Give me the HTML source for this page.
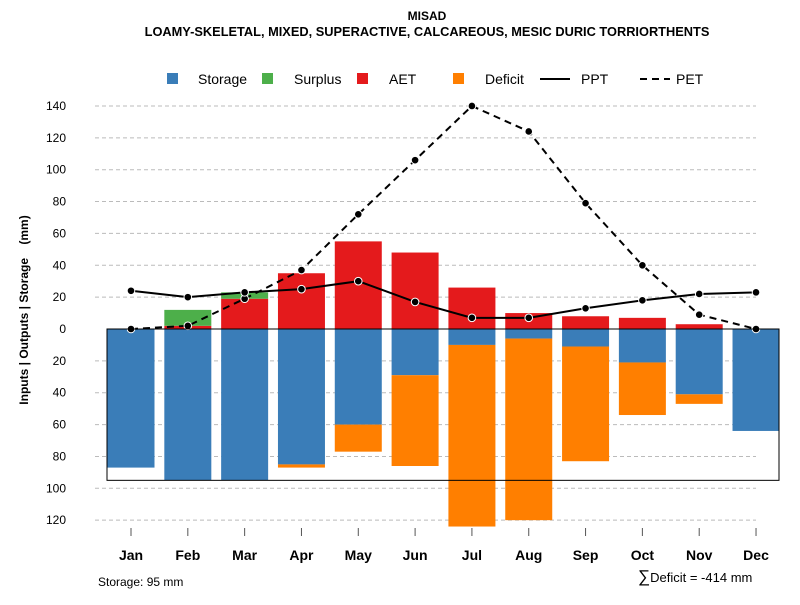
<!DOCTYPE html>
<html><head><meta charset="utf-8"><style>
body{margin:0;background:#fff;font-family:"Liberation Sans",sans-serif}
svg text{font-family:"Liberation Sans",sans-serif}
</style></head><body>
<svg id="c" width="800" height="600" xmlns="http://www.w3.org/2000/svg">
<text x="427" y="20" text-anchor="middle" font-size="12" font-weight="bold">MISAD</text>
<text x="427" y="36" text-anchor="middle" font-size="12.8" font-weight="bold">LOAMY-SKELETAL, MIXED, SUPERACTIVE, CALCAREOUS, MESIC DURIC TORRIORTHENTS</text>
<g id="legend" font-size="14">
<g><rect x="167" y="73" width="11" height="11" fill="#3a7db8"/><text x="198" y="84">Storage</text></g>
<g><rect x="262" y="73" width="11" height="11" fill="#4daf4a"/><text x="294" y="84">Surplus</text></g>
<g><rect x="357" y="73" width="11" height="11" fill="#e41a1c"/><text x="389" y="84">AET</text></g>
<g><rect x="453" y="73" width="11" height="11" fill="#ff7f00"/><text x="485" y="84">Deficit</text></g>
<g><line x1="540" y1="79" x2="570" y2="79" stroke="#000" stroke-width="2"/><text x="581" y="84">PPT</text></g>
<g><line x1="640" y1="79" x2="670" y2="79" stroke="#000" stroke-width="2" stroke-dasharray="7,5"/><text x="676" y="84">PET</text></g>
</g>
<text transform="translate(28,310) rotate(-90)" text-anchor="middle" font-size="12" font-weight="bold" xml:space="preserve" style="white-space:pre">Inputs | Outputs | Storage    (mm)</text>
<text x="98" y="586" font-size="12">Storage: 95 mm</text>
<text x="638" y="582" font-size="13"><tspan font-size="17">∑</tspan>Deficit = -414 mm</text>
<g id="grid"></g><g id="bars"></g><g id="lines"></g><g id="axes"></g>
</svg>
<script>
const months=["Jan","Feb","Mar","Apr","May","Jun","Jul","Aug","Sep","Oct","Nov","Dec"];
const storage=[87,95,95,85,60,29,10,6,11,21,41,64];
const deficit=[0,0,0,2,17,57,114,114,72,33,6,0];
const aet=[0,2,19,35,55,48,26,10,8,7,3,0];
const surplus=[0,10,4,0,0,0,0,0,0,0,0,0];
const ppt=[24,20,23,25,30,17,7,7,13,18,22,23];
const pet=[0,2,19,37,72,106,140,124,79,40,9,0];
const yTicks=[140,120,100,80,60,40,20,0,20,40,60,80,100,120];
const yTickVals=[140,120,100,80,60,40,20,0,-20,-40,-60,-80,-100,-120];
const capacity=95;
const NS="http://www.w3.org/2000/svg";
const X=i=>131+i*56.82, Y=v=>329-v*1.593, BW=47;
function mk(p,t,a){const e=document.createElementNS(NS,t);for(const k in a)e.setAttribute(k,a[k]);document.getElementById(p).appendChild(e);return e;}
yTickVals.forEach((v,i)=>{
 if(v!==0){const g=mk('grid','line',{x1:95,x2:756,y1:Y(v),y2:Y(v),stroke:'#bbb','stroke-dasharray':'4,3'});
 
 }
 const t=mk('axes','text',{x:66,y:Y(v)+4,'text-anchor':'end','font-size':12});t.textContent=yTicks[i];
 
 
});
months.forEach((m,i)=>{
 const x=X(i)-BW/2;
 const parts=[[0,-storage[i],'#3a7db8','bar-storage'],[-storage[i],-storage[i]-deficit[i],'#ff7f00','bar-deficit'],[0,aet[i],'#e41a1c','bar-aet'],[aet[i],aet[i]+surplus[i],'#4daf4a','bar-surplus']];
 parts.forEach(p=>{if(p[0]===p[1])return;
  const r=mk('bars','rect',{x:x,y:Math.min(Y(p[0]),Y(p[1])),width:BW,height:Math.abs(Y(p[0])-Y(p[1])),fill:p[2]});
  
  });
 const tk=mk('axes','line',{x1:X(i),x2:X(i),y1:528,y2:536,stroke:'#555'});
 
 
 const t=mk('axes','text',{x:X(i),y:560,'text-anchor':'middle','font-size':14,'font-weight':'bold'});t.textContent=m;
 
 
});
const box=mk('axes','rect',{x:107,y:Y(0),width:672,height:Y(-capacity)-Y(0),fill:'none',stroke:'#000'});


[[pet,'7,5','pet'],[ppt,'','ppt']].forEach(s=>{
 const ln=mk('lines','polyline',{points:s[0].map((v,i)=>X(i)+','+Y(v)).join(' '),fill:'none',stroke:'#000','stroke-width':2,'stroke-dasharray':s[1]});
 
 
 s[0].forEach((v,i)=>{const c=mk('lines','circle',{cx:X(i),cy:Y(v),r:3.8,fill:'#000',stroke:'#fff','stroke-width':1});
  
  });
});
</script>
</body></html>
